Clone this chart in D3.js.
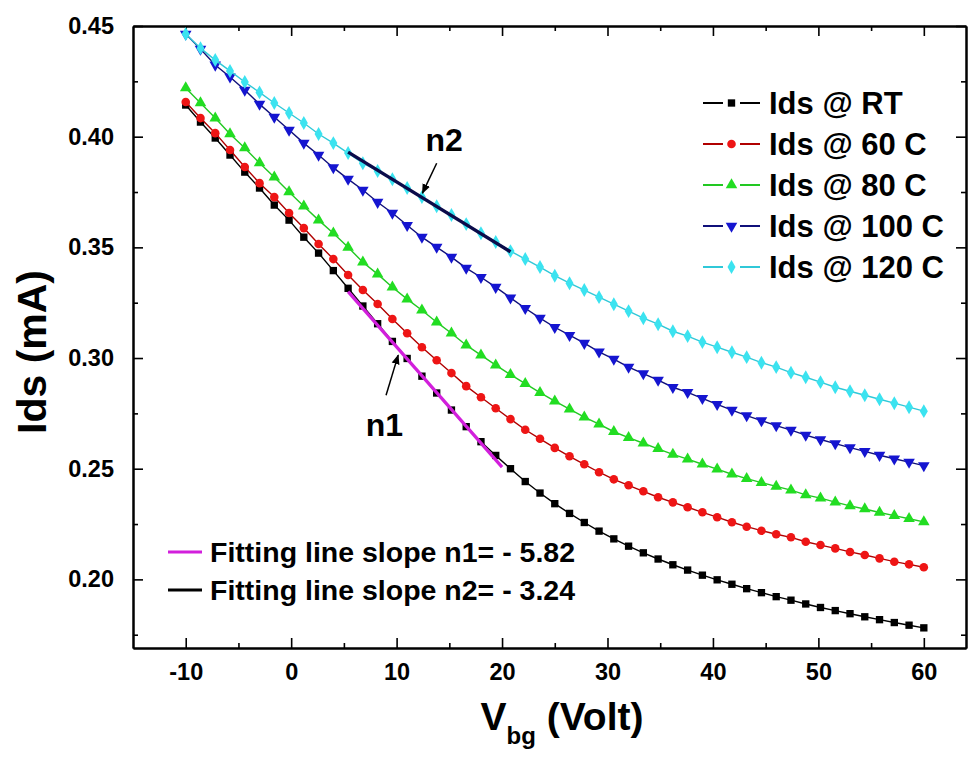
<!DOCTYPE html>
<html>
  <head>
    <meta charset="utf-8">
    <title>Ids vs Vbg</title>
    <script src="https://d3js.org/d3.v7.min.js"></script>
    <style>
      body { margin: 0; background: #fff; }
      text { font-family: "Liberation Sans", Arial, sans-serif; font-weight: bold; fill: #000; }
    </style>
  </head>
  <body>
    <div id="chart"></div>
    <script>
    // gate voltage values (Volt)
    var vbg = [-10, -8.6, -7.2, -5.8, -4.4, -3, -1.6, -0.2, 1.2, 2.6, 4, 5.4, 6.8, 8.2, 9.6, 11, 12.4, 13.8, 15.2, 16.6,
      18, 19.4, 20.8, 22.2, 23.6, 25, 26.4, 27.8, 29.2, 30.6, 32, 33.4, 34.8, 36.2, 37.6, 39, 40.4, 41.8, 43.2, 44.6,
      46, 47.4, 48.8, 50.2, 51.6, 53, 54.4, 55.8, 57.2, 58.6, 60];

    // Ids (mA) for each temperature
    var idsRT = [0.4143, 0.4066, 0.3994, 0.3917, 0.3840, 0.3768, 0.3691, 0.3623, 0.3546, 0.3474,
      0.3395, 0.3315, 0.3235, 0.3155, 0.3075, 0.2998, 0.2918, 0.2842, 0.2765, 0.2690, 0.2622, 0.2560, 0.2500,
      0.2442, 0.2390, 0.2342, 0.2298, 0.2257, 0.2218, 0.2183, 0.2150, 0.2120, 0.2092, 0.2066, 0.2042, 0.2019, 0.1998, 0.1978,
      0.1958, 0.1940, 0.1922, 0.1906, 0.1889, 0.1873, 0.1859, 0.1845, 0.1831, 0.1818, 0.1805, 0.1793, 0.1781];
    var ids60 = [0.4157, 0.4084, 0.4016, 0.3940, 0.3863, 0.3790, 0.3727, 0.3655, 0.3587, 0.3515,
      0.3447, 0.3375, 0.3307, 0.3244, 0.3176, 0.3112, 0.3049, 0.2990, 0.2932, 0.2873, 0.2823, 0.2773, 0.2724,
      0.2676, 0.2635, 0.2594, 0.2556, 0.2520, 0.2484, 0.2452, 0.2425, 0.2398, 0.2371, 0.2348, 0.2326, 0.2303, 0.2281, 0.2258,
      0.2238, 0.2220, 0.2204, 0.2190, 0.2170, 0.2155, 0.2140, 0.2124, 0.2110, 0.2095, 0.2080, 0.2068, 0.2055];
    var ids80 = [0.4220, 0.4152, 0.4084, 0.4012, 0.3949, 0.3881, 0.3817, 0.3750, 0.3686, 0.3623, 0.3564, 0.3500,
      0.3433, 0.3379, 0.3320, 0.3266, 0.3216, 0.3162, 0.3112, 0.3058, 0.3013, 0.2968, 0.2925, 0.2884, 0.2844,
      0.2805, 0.2769, 0.2733, 0.2701, 0.2667, 0.2640, 0.2615, 0.2590, 0.2565, 0.2543, 0.2520, 0.2498, 0.2475,
      0.2455, 0.2437, 0.2420, 0.2403, 0.2382, 0.2367, 0.2349, 0.2332, 0.2318, 0.2302, 0.2288, 0.2274, 0.2260];
    var ids100 = [0.4464, 0.4396, 0.4324, 0.4270, 0.4211, 0.4147, 0.4089, 0.4030, 0.3971, 0.3917, 0.3860, 0.3808,
      0.3759, 0.3704, 0.3655, 0.3600, 0.3546, 0.3501, 0.3456, 0.3406, 0.3365, 0.3320,
      0.3272, 0.3225, 0.3180, 0.3139, 0.3103, 0.3067, 0.3028, 0.2995, 0.2959, 0.2930, 0.2900, 0.2868, 0.2845, 0.2818, 0.2791, 0.2765,
      0.2740, 0.2717, 0.2695, 0.2674, 0.2652, 0.2632, 0.2613, 0.2595, 0.2578, 0.2561, 0.2545, 0.2530, 0.2514];
    var ids120 = [0.4464, 0.4400, 0.4346, 0.4297, 0.4247, 0.4200, 0.4152, 0.4107, 0.4062, 0.4012, 0.3971, 0.3926,
      0.3880, 0.3845, 0.3808, 0.3768, 0.3727, 0.3686, 0.3646, 0.3605, 0.3564, 0.3524,
      0.3483, 0.3447, 0.3411, 0.3372, 0.3338, 0.3307, 0.3275, 0.3243, 0.3212, 0.3180, 0.3153, 0.3121, 0.3099, 0.3072, 0.3049, 0.3026,
      0.3004, 0.2979, 0.2959, 0.2934, 0.2913, 0.2891, 0.2868, 0.2850, 0.2832, 0.2814, 0.2796, 0.2778, 0.2760];

    var seriesNames = ["Ids @ RT", "Ids @ 60 C", "Ids @ 80 C", "Ids @ 100 C", "Ids @ 120 C"];

    // fitting lines [Vbg, Ids]
    var fitN1 = [[5.4, 0.3300], [20, 0.2507]];
    var fitN2 = [[5.4, 0.3930], [20.8, 0.3480]];
    var fitLabels = ["Fitting line slope n1= - 5.82", "Fitting line slope n2= - 3.24"];

    // tick values
    var xTicks = [-10, 0, 10, 20, 30, 40, 50, 60];
    var xMinor = [-5, 5, 15, 25, 35, 45, 55];
    var yTicks = [0.20, 0.25, 0.30, 0.35, 0.40, 0.45];
    var yMinor = [0.175, 0.225, 0.275, 0.325, 0.375, 0.425];

    // styles per series
    var styles = [
      {line: "#000000", fill: "#000000", shape: d3.symbolSquare, size: 54, rot: 0},
      {line: "#b00000", fill: "#ee1515", shape: d3.symbolCircle, size: 58, rot: 0},
      {line: "#22c822", fill: "#22dd22", shape: d3.symbolTriangle, size: 58, rot: 0},
      {line: "#10107a", fill: "#1515d0", shape: d3.symbolTriangle, size: 58, rot: 180},
      {line: "#30c8d8", fill: "#3be3f0", shape: d3.symbolDiamond, size: 56, rot: 0}
    ];
    var allSeries = [idsRT, ids60, ids80, ids100, ids120];

    var width = 969, height = 758;
    var plot = {left: 133, right: 966, top: 26, bottom: 648};

    var svg = d3.select("#chart").append("svg")
      .attr("width", width)
      .attr("height", height);

    var x = d3.scaleLinear().domain([-15, 64]).range([plot.left, plot.right]);
    var y = d3.scaleLinear().domain([0.169, 0.45]).range([plot.bottom, plot.top]);

    // frame axes with inward ticks
    function styleAxis(g) {
      g.select(".domain").attr("stroke", "#000").attr("stroke-width", 2);
      g.selectAll(".tick line").attr("stroke", "#000").attr("stroke-width", 1.6);
      g.selectAll("text").style("font-size", "23.5px").attr("fill", "#000");
    }

    svg.append("g").attr("transform", "translate(0," + plot.bottom + ")")
      .call(d3.axisBottom(x).tickValues(xTicks).tickSizeInner(-10).tickSizeOuter(0).tickPadding(15).tickFormat(d => String(d)))
      .call(styleAxis);
    svg.append("g").attr("transform", "translate(0," + plot.bottom + ")")
      .call(d3.axisBottom(x).tickValues(xMinor).tickSizeInner(-5).tickSizeOuter(0).tickFormat(""))
      .call(styleAxis);
    svg.append("g").attr("transform", "translate(0," + plot.top + ")")
      .call(d3.axisTop(x).tickValues(xTicks).tickSizeInner(-10).tickSizeOuter(0).tickFormat(""))
      .call(styleAxis);
    svg.append("g").attr("transform", "translate(0," + plot.top + ")")
      .call(d3.axisTop(x).tickValues(xMinor).tickSizeInner(-5).tickSizeOuter(0).tickFormat(""))
      .call(styleAxis);

    svg.append("g").attr("transform", "translate(" + plot.left + ",0)")
      .call(d3.axisLeft(y).tickValues(yTicks).tickSizeInner(-10).tickSizeOuter(0).tickPadding(19).tickFormat(d3.format(".2f")))
      .call(styleAxis);
    svg.append("g").attr("transform", "translate(" + plot.left + ",0)")
      .call(d3.axisLeft(y).tickValues(yMinor).tickSizeInner(-5).tickSizeOuter(0).tickFormat(""))
      .call(styleAxis);
    svg.append("g").attr("transform", "translate(" + plot.right + ",0)")
      .call(d3.axisRight(y).tickValues(yTicks).tickSizeInner(-10).tickSizeOuter(0).tickFormat(""))
      .call(styleAxis);
    svg.append("g").attr("transform", "translate(" + plot.right + ",0)")
      .call(d3.axisRight(y).tickValues(yMinor).tickSizeInner(-5).tickSizeOuter(0).tickFormat(""))
      .call(styleAxis);

    // data lines and markers
    var line = d3.line().x(d => x(d[0])).y(d => y(d[1]));

    allSeries.forEach(function(vals, i) {
      var st = styles[i];
      var pts = vbg.map((v, k) => [v, vals[k]]);
      svg.append("path")
        .datum(pts)
        .attr("d", line)
        .attr("fill", "none")
        .attr("stroke", st.line)
        .attr("stroke-width", 1.4);
      svg.append("g").selectAll("path")
        .data(pts)
        .enter().append("path")
        .attr("d", d3.symbol().type(st.shape).size(st.size))
        .attr("transform", d => "translate(" + x(d[0]) + "," + y(d[1]) + ") rotate(" + st.rot + ")")
        .attr("fill", st.fill);
    });

    // fitting lines
    svg.append("path").datum(fitN1).attr("d", line)
      .attr("stroke", "#d21fdc").attr("stroke-width", 3.2).attr("fill", "none");
    svg.append("path").datum(fitN2).attr("d", line)
      .attr("stroke", "#0b0b4a").attr("stroke-width", 3.4).attr("fill", "none");

    // arrows and labels n1 / n2
    svg.append("defs").append("marker")
      .attr("id", "head")
      .attr("viewBox", "0 0 10 10")
      .attr("refX", 9).attr("refY", 5)
      .attr("markerWidth", 10).attr("markerHeight", 10)
      .attr("markerUnits", "userSpaceOnUse")
      .attr("orient", "auto")
      .append("path").attr("d", "M0,1 L10,5 L0,9 Z").attr("fill", "#000");

    var arrows = [
      {from: [13.8, 0.388], to: [12.45, 0.3745], label: "n2", at: [14.5, 0.3985]},
      {from: [9.0, 0.2832], to: [10.15, 0.3013], label: "n1", at: [8.85, 0.2697]}
    ];
    arrows.forEach(function(a) {
      svg.append("line")
        .attr("x1", x(a.from[0])).attr("y1", y(a.from[1]))
        .attr("x2", x(a.to[0])).attr("y2", y(a.to[1]))
        .attr("stroke", "#000").attr("stroke-width", 1.5)
        .attr("marker-end", "url(#head)");
      svg.append("text")
        .attr("x", x(a.at[0])).attr("y", y(a.at[1]))
        .attr("text-anchor", "middle")
        .attr("dy", "0.35em")
        .style("font-size", "32px")
        .text(a.label);
    });

    // legend top right
    var legend = svg.append("g").attr("transform", "translate(703,103)");
    seriesNames.forEach(function(name, i) {
      var st = styles[i];
      var row = legend.append("g").attr("transform", "translate(0," + (i * 41) + ")");
      row.append("line").attr("x1", 0).attr("x2", 20).attr("stroke", st.line).attr("stroke-width", 2);
      row.append("line").attr("x1", 37).attr("x2", 57).attr("stroke", st.line).attr("stroke-width", 2);
      row.append("path")
        .attr("d", d3.symbol().type(st.shape).size(st.size))
        .attr("transform", "translate(28.5,0) rotate(" + st.rot + ")")
        .attr("fill", st.fill);
      row.append("text")
        .attr("x", 66).attr("dy", "0.36em")
        .style("font-size", "31px")
        .text(name);
    });

    // legend bottom left for fitting lines
    var fitColors = ["#d21fdc", "#000000"];
    var legend2 = svg.append("g").attr("transform", "translate(168,552)");
    fitLabels.forEach(function(name, i) {
      var row = legend2.append("g").attr("transform", "translate(0," + (i * 38) + ")");
      row.append("line").attr("x1", 0).attr("x2", 34).attr("stroke", fitColors[i]).attr("stroke-width", 3);
      row.append("text")
        .attr("x", 42).attr("dy", "0.36em")
        .style("font-size", "28.5px")
        .text(name);
    });

    // axis titles
    svg.append("text")
      .attr("transform", "translate(46,352) rotate(-90)")
      .attr("text-anchor", "middle")
      .style("font-size", "41px")
      .text("Ids (mA)");

    var xt = svg.append("text")
      .attr("x", 562).attr("y", 730)
      .attr("text-anchor", "middle")
      .style("font-size", "39px");
    xt.append("tspan").text("V");
    xt.append("tspan").attr("dy", 14).style("font-size", "24px").text("bg");
    xt.append("tspan").attr("dy", -14).text(" (Volt)");
    </script>
  </body>
</html>
